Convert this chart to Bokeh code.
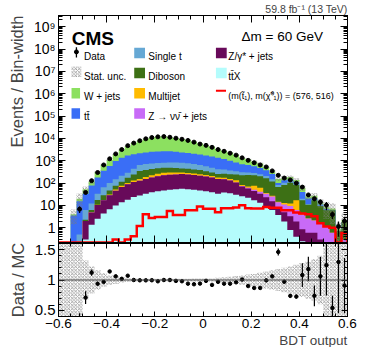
import numpy as np
from bokeh.plotting import figure
from bokeh.models import (Range1d, LinearScale, LinearAxis, LogAxis, Title, Span,
                          CustomJSTickFormatter, FixedTicker)
from bokeh.layouts import column
from bokeh.embed import file_html
from bokeh.resources import INLINE
from bokeh.core.properties import value

# ---------------- data (events / bin-width, 48 bins of BDT output) ----------------
bin_low, bin_width, n_bins = -0.6, 0.025, 48

ttx = [0, 0, 0, 0, 0.3, 1.35, 2.5, 4.4, 6.8, 10, 14, 18, 23.7, 28, 33, 39, 43, 47, 50, 53,
       55, 53, 50, 47, 43, 39, 33, 38, 35, 30, 26, 22, 17, 13, 9.2, 6.2, 3.7, 1.9, 0.8, 0.4,
       0.25, 0.1, 0, 0, 0, 0, 0, 0]
zgamma = [0, 0, 0, 0, 1.7, 3.5, 8, 12.6, 22, 35, 52, 70, 88, 100, 120, 140, 160, 175, 185, 190,
          197, 190, 180, 168, 155, 140, 119, 110, 95, 75, 45, 35, 27, 20, 14, 9, 4, 3, 2.5, 1.5,
          0.6, 0.5, 0.6, 0.3, 0.15, 0, 0, 0]
znunu = [0, 0, 0, 0, 0, 0, 0, 0, 0, 0, 0, 0, 0, 0, 0, 0, 0, 0, 0, 0,
         0, 0, 0, 0, 0, 0, 0, 0, 0, 2, 3, 4, 6, 8, 10, 10, 6, 6, 6, 4.3,
         3, 2, 1.5, 1.2, 1.0, 0.6, 0.2, 0.3]
multijet = [0, 0, 0, 0, 0, 0.1, 0.3, 0.5, 2, 6, 10, 12, 18, 25, 35, 45, 60, 70, 65, 55,
            44, 40, 38, 35, 32, 30, 27, 25, 22, 25, 8, 10, 25, 20, 3, 2, 1, 2, 3, 11,
            0.2, 0, 0, 0, 0, 0, 0, 0]
diboson = [0, 0, 0, 0, 0.3, 1.3, 6.5, 11, 16, 24, 40, 71, 110, 190, 200, 200, 200, 195, 190, 170,
           150, 150, 140, 130, 110, 90, 73, 85, 95, 110, 140, 160, 150, 140, 130, 90, 52, 70, 90, 65,
           13, 8, 15, 8, 5, 5.5, 0.5, 1.5]
single_t = [0, 0, 0.2, 0.5, 4, 5.8, 16, 37, 55, 75, 95, 117, 200, 300, 320, 330, 330, 330, 340, 360,
            360, 340, 300, 260, 220, 190, 165, 150, 120, 100, 84, 70, 60, 50, 40, 30, 15, 20, 25, 20,
            3, 1, 2, 0.5, 0.3, 0, 0, 0]
ttbar = [0, 0, 3.3, 15, 27, 65, 146, 287, 480, 814, 1150, 1424, 1500, 1540, 1650, 1750, 1800, 1840, 1800, 1700,
         1550, 1450, 1350, 1250, 1150, 1050, 933, 800, 620, 500, 394, 350, 280, 220, 170, 110, 20, 30, 18, 9,
         20, 9, 2, 1, 0.5, 0, 0, 0]
wjets = [0, 0, 0.5, 4.5, 20.2, 37, 136, 314, 488, 941, 1739, 2698, 4220, 5697, 7262, 8496, 9407, 9393, 8610, 7822,
         6984, 6397, 5252, 4020, 3230, 2801, 1920, 1612, 1323, 1008, 640, 504, 370, 272, 154, 74, 51, 40, 40, 25,
         21, 4.4, 5.9, 2.4, 1.25, 1.1, 0.18, 0.4]
mc_stat_rel = [1.0, 1.0, 0.65, 0.7, 0.32, 0.22, 0.16, 0.11, 0.08, 0.065, 0.045, 0.03, 0.025, 0.02, 0.02, 0.02,
               0.02, 0.02, 0.02, 0.02, 0.02, 0.02, 0.025, 0.025, 0.025, 0.025, 0.035, 0.045, 0.055, 0.065,
               0.08, 0.09, 0.1, 0.12, 0.14, 0.16, 0.18, 0.2, 0.22, 0.25, 0.28, 0.31, 0.34, 0.4, 0.7, 0.8, 1.0, 1.0]
data = [0, 0, 0, 6.8, 38, 128, 296, 646, 1220, 2020, 3160, 4720, 6160, 7840, 9570, 10960, 11750, 12050, 11240, 10200,
        9150, 8100, 6800, 5560, 4870, 3990, 3170, 2650, 2170, 1780, 1350, 1040, 813, 646, 527, 351, 223, 168, 137, 99,
        66, 29.5, 20, 14.2, 10.2, 3.9, 1.14, 2.0]
data_err_rel = [0, 0, 0, 0.33, 0.15, 0.045, 0.03, 0.02, 0.015, 0.01, 0.01, 0.01, 0.01, 0.01, 0.01, 0.01,
                0.01, 0.01, 0.01, 0.01, 0.01, 0.01, 0.01, 0.01, 0.01, 0.01, 0.01, 0.01, 0.01, 0.01, 0.01, 0.01,
                0.01, 0.01, 0.015, 0.015, 0.04, 0.03, 0.04, 0.04, 0.18, 0.17, 0.23, 0.3, 0.4, 0.37, 0.65, 0.5]
signal = [0, 0, 0, 0, 0, 0, 0, 0, 0, 0.3, 0, 0.3, 0.42, 1.2, 4.0, 2.7, 3.0, 3.0, 5.6, 3.7,
          3.7, 6.0, 6.0, 9.0, 7.0, 7.0, 5.0, 7.5, 7.5, 8.0, 10.2, 7.5, 7.3, 7.3, 8.5, 7.8, 7.8, 6.0, 6.0, 4.8,
          4.3, 4.0, 3.3, 1.6, 1.14, 1.0, 0, 0.58]

# stacking order bottom -> top
stack = [("ttX", ttx, "#b4fcfc"), ("Z/γ* + jets", zgamma, "#680a5a"),
         ("Z → νν̄ + jets", znunu, "#c86af7"), ("Multijet", multijet, "#ffbb00"),
         ("Diboson", diboson, "#3d7015"), ("Single t", single_t, "#66a8d4"),
         ("tt̄", ttbar, "#3a6ef6"), ("W + jets", wjets, "#8ce060")]
colors = {n: c for n, _, c in stack}

FONT = "Liberation Sans"
YMIN, YMAX = 10 ** -0.66, 10 ** 9.5
RMIN, RMAX = 0.4, 1.6
FLOOR = 1e-3

edges = bin_low + bin_width * np.arange(n_bins + 1)
left, right = edges[:-1], edges[1:]
centers = 0.5 * (left + right)
cum_tops = []
cum = np.zeros(n_bins)
for _, vals, _ in stack:
    cum = cum + np.asarray(vals, float)
    cum_tops.append(cum.copy())
mc = cum_tops[-1]
d = np.asarray(data, float)
derr = np.asarray(data_err_rel, float)
mrel = np.asarray(mc_stat_rel, float)

# ---------------- tickers / formatters ----------------
log_fmt = CustomJSTickFormatter(code="""
const e = Math.round(Math.log10(tick));
if (e === 0) return "1";
if (e === 1) return "10";
const sup = {"0":"\u2070","1":"\u00b9","2":"\u00b2","3":"\u00b3","4":"\u2074","5":"\u2075","6":"\u2076","7":"\u2077","8":"\u2078","9":"\u2079","-":"\u207b"};
return "10" + String(e).split("").map(c => sup[c]).join("");
""")
x_fmt = CustomJSTickFormatter(code="""
if (Math.abs(tick) < 1e-9) return "0";
return (tick < 0 ? "\u2212" : "") + Math.abs(tick).toFixed(1);
""")
r_fmt = CustomJSTickFormatter(code="return (Math.round(tick*10)/10).toString();")

def log_ticker():
    majors = [10.0 ** k for k in range(0, 10)]
    minors = [m * 10.0 ** k for k in range(-1, 10) for m in range(1, 10)]
    return FixedTicker(ticks=majors, minor_ticks=minors)

def x_ticker():
    return FixedTicker(ticks=list(np.round(np.arange(-0.6, 0.61, 0.2), 2)),
                       minor_ticks=list(np.round(np.arange(-0.6, 0.61, 0.05), 3)))

def r_ticker():
    return FixedTicker(ticks=[0.5, 1.0, 1.5],
                       minor_ticks=list(np.round(np.arange(0.4, 1.61, 0.1), 2)))

def style(ax, ticker, fmt=None, show=True, size="14px", tick_in=7, minor_in=4, standoff=3):
    ax.ticker = ticker
    if fmt is not None:
        ax.formatter = fmt
    ax.major_tick_in = tick_in
    ax.major_tick_out = 0
    ax.minor_tick_in = minor_in
    ax.minor_tick_out = 0
    ax.axis_line_color = "black"
    ax.major_tick_line_color = "black"
    ax.minor_tick_line_color = "black"
    ax.major_label_text_font = FONT
    if show:
        ax.major_label_text_color = "black"
        ax.major_label_text_font_size = size
        ax.major_label_standoff = standoff
    else:
        ax.major_label_text_color = None
        ax.major_label_text_font_size = "1px"
        ax.major_label_standoff = 0

# ---------------- main panel ----------------
W = 358
H1, H2, OVERLAP = 252, 114, 19
p1 = figure(width=W, height=H1, x_range=Range1d(-0.6, 0.6), y_range=Range1d(YMIN, YMAX),
            y_axis_type="log", output_backend="svg", toolbar_location=None,
            min_border_left=52, min_border_right=11, min_border_top=0, min_border_bottom=10)
p1.title.text = "59.8 fb\u207b\u00b9 (13 TeV)"
p1.title.align = "right"
p1.title.text_font = FONT
p1.title.text_font_size = "10.5px"
p1.title.text_font_style = "normal"
p1.title.standoff = 1
p1.grid.grid_line_color = None
p1.outline_line_color = "black"
style(p1.yaxis[0], log_ticker(), log_fmt, size="14px")
style(p1.xaxis[0], x_ticker(), show=False)
p1.add_layout(LogAxis(), "right")
style(p1.right[0], log_ticker(), show=False)
p1.add_layout(LinearAxis(), "above")
style(p1.above[-1], x_ticker(), show=False)
p1.add_layout(Title(text="Events / Bin-width", align="right", text_font=FONT,
                    text_font_size="16.5px", text_font_style="normal"), "left")

xs_step = np.repeat(edges, 2)[1:-1]
for (name, _, color), top in reversed(list(zip(stack, cum_tops))):
    p1.varea(x=xs_step, y1=np.full(xs_step.size, FLOOR),
             y2=np.maximum(np.repeat(top, 2), FLOOR), fill_color=color)

hatch_kw = dict(fill_alpha=0, line_color=None, hatch_pattern="diagonal_cross",
                hatch_color="#7a7a7a", hatch_scale=3.5, hatch_weight=0.7)
m = mc > 0
p1.quad(left=left[m], right=right[m], bottom=np.maximum(mc[m] * (1 - mrel[m]), FLOOR),
        top=mc[m] * (1 + mrel[m]), **hatch_kw)

sig = np.maximum(np.asarray(signal, float), YMIN)
sx = np.concatenate([[edges[0]], xs_step, [edges[-1]]])
sy = np.concatenate([[YMIN], np.repeat(sig, 2), [YMIN]])
p1.line(sx, sy, line_color="#ff0000", line_width=2.5, line_join="miter")

dm = d > 0
p1.segment(x0=centers[dm], x1=centers[dm], y0=d[dm] * (1 - derr[dm]), y1=d[dm] * (1 + derr[dm]),
           line_color="black", line_width=1.3)
p1.scatter(centers[dm], d[dm], size=4, color="black")

# ---- legend & labels in frame pixel coordinates ----
FW, FH = 295, H1 - 12.5 - 10
p1.extra_x_ranges = {"px": Range1d(0, FW)}
p1.extra_y_ranges = {"px": Range1d(FH, 0)}
p1.extra_x_scales = {"px": LinearScale()}
p1.extra_y_scales = {"px": LinearScale()}
PX = dict(x_range_name="px", y_range_name="px")

p1.text(x=[13.5], y=[22.8], text=["CMS"], text_font=value(FONT), text_font_size="19px",
        text_font_style="bold", text_baseline="alphabetic", text_align="left", **PX)
p1.text(x=[270], y=[21.2], text=["Δm = 60 GeV"], text_font=value(FONT), text_font_size="13.5px",
        text_baseline="alphabetic", text_align="right", **PX)

rows = [41.0, 61.3, 81.8, 102.3]
cols_box = [(13.3, 22.0), (77.3, 88.3), (160.7, 171.7)]
cols_txt = [26.0, 91.7, 173.3]
legend_items = [
    (0, 0, "Data", "data"), (0, 1, "Stat. unc.", "hatch"), (0, 2, "W + jets", colors["W + jets"]),
    (0, 3, "tt̄", colors["tt̄"]),
    (1, 0, "Single t", colors["Single t"]), (1, 1, "Diboson", colors["Diboson"]),
    (1, 2, "Multijet", colors["Multijet"]), (1, 3, "Z → νν̄ + jets", colors["Z → νν̄ + jets"]),
    (2, 0, "Z/γ* + jets", colors["Z/γ* + jets"]), (2, 1, "tt̄X", colors["ttX"]),
    (2, 2, "(m(t̃₁), m(χ̃⁰₁)) = (576, 516)", "signal"),
]
for c, r, label, kind in legend_items:
    by = rows[r]
    x0, x1 = cols_box[c]
    fs = "10px"
    if kind == "data":
        xm = 18.3
        p1.segment(x0=[xm], x1=[xm], y0=[by - 9], y1=[by + 1.5], line_color="black", line_width=1.3, **PX)
        p1.scatter([xm], [by - 4.2], size=4, color="black", **PX)
    elif kind == "hatch":
        p1.quad(left=[x0], right=[x0 + 10], top=[by - 9.8], bottom=[by + 1.0], **hatch_kw, **PX)
    elif kind == "signal":
        p1.segment(x0=[x0], x1=[x1 - 0.7], y0=[by - 5.6], y1=[by - 5.6], line_color="#ff0000",
                   line_width=2, **PX)
        fs = "9px"
    else:
        p1.quad(left=[x0], right=[x1], top=[by - 8.5], bottom=[by + 2.2], fill_color=kind,
                line_color=None, **PX)
    p1.text(x=[cols_txt[c]], y=[by], text=[label], text_font=value(FONT), text_font_size=fs,
            text_baseline="alphabetic", text_align="left", **PX)

# ---------------- ratio panel ----------------
p2 = figure(width=W, height=H2, x_range=p1.x_range, y_range=Range1d(RMIN, RMAX), title=None,
            output_backend="svg", toolbar_location=None,
            min_border_left=52, min_border_right=11, min_border_top=10, min_border_bottom=0,
            margin=(-OVERLAP, 0, 0, 0))
p2.border_fill_color = None
p2.background_fill_color = "white"
p2.grid.grid_line_color = None
p2.outline_line_color = "black"
style(p2.xaxis[0], x_ticker(), x_fmt, size="13.5px", tick_in=5, minor_in=3, standoff=2)
style(p2.yaxis[0], r_ticker(), r_fmt, size="15px", tick_in=6, minor_in=3)
p2.add_layout(LinearAxis(), "right")
style(p2.right[0], r_ticker(), show=False, tick_in=6, minor_in=3)
p2.add_layout(LinearAxis(), "above")
style(p2.above[-1], x_ticker(), show=False, tick_in=5, minor_in=3)
p2.add_layout(Title(text="Data / MC", align="center", text_font=FONT,
                    text_font_size="16.5px", text_font_style="normal"), "left")
p2.add_layout(Title(text="BDT output", align="right", text_font=FONT,
                    text_font_size="13.5px", text_font_style="normal", standoff=0), "below")

p2.quad(left=left, right=right, bottom=1 - mrel, top=1 + mrel, **hatch_kw)
p2.add_layout(Span(location=1, dimension="width", line_color="#444444", line_width=1))
rm = (d > 0) & (mc > 0)
ratio = d[rm] / mc[rm]
p2.segment(x0=centers[rm], x1=centers[rm], y0=ratio * (1 - derr[rm]), y1=ratio * (1 + derr[rm]),
           line_color="black", line_width=1.2)
p2.scatter(centers[rm], ratio, size=3.5, color="black")

layout = column(p1, p2)
open("out.html", "w").write(file_html(layout, INLINE))
